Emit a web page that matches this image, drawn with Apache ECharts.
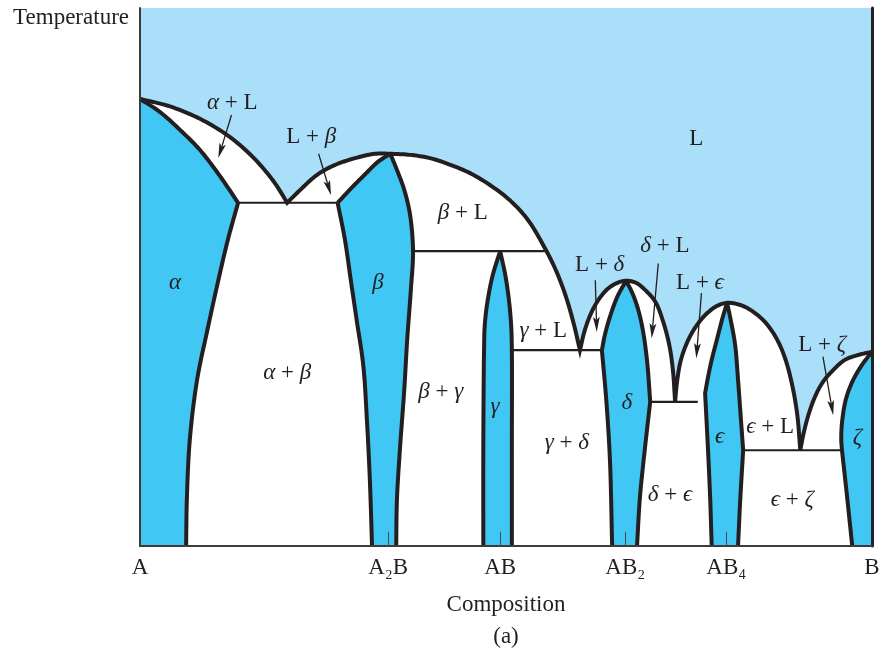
<!DOCTYPE html>
<html>
<head>
<meta charset="utf-8">
<script src="https://cdn.jsdelivr.net/npm/echarts@6/dist/echarts.min.js"></script>
<style>
  html, body { margin: 0; padding: 0; background: #ffffff; }
  #chart { width: 888px; height: 651px; }
</style>
</head>
<body>
<div id="chart"></div>
<script>
// Composition axis: percent B (A = 0, B = 100). Temperature axis: relative units 0–100.

// Compounds along the composition axis
const compoundNames = ['A', 'A₂B', 'AB', 'AB₂', 'AB₄', 'B'];
const compoundPos = [0, 33.9, 49.2, 66.3, 80.1, 100];
const compoundTicks = [33.9, 49.2, 66.3, 80.1];

// Liquidus, piece by piece from A to B
const liquidusAlpha = [[0, 83.1], [4.1, 81.7], [8.2, 79.4], [12.3, 76.0], [15.7, 71.9], [18.4, 67.5], [20.1, 63.8]];
const liquidusBeta = [[20.1, 63.8], [21.9, 66.2], [24.2, 69.0], [26.6, 70.8], [29.4, 72.1], [32.1, 72.9], [34.2, 72.9]];
const liquidusBetaGamma = [[34.2, 72.9], [36.9, 72.7], [39.6, 72.1], [42.3, 70.9], [45.1, 69.3], [47.8, 67.1], [50.5, 64.3],
  [53.0, 60.6], [55.3, 55.4], [56.8, 51.3], [58.1, 46.7], [59.2, 41.6], [60.1, 36.4]];
const liquidusDeltaLeft = [[60.1, 36.4], [60.7, 39.8], [61.5, 42.9], [62.6, 45.7], [63.9, 47.8], [65.2, 48.9], [66.4, 49.3]];
const liquidusDeltaRight = [[66.4, 49.3], [67.8, 48.9], [69.0, 47.6], [70.4, 45.4], [71.4, 42.0], [72.3, 37.4], [72.8, 32.7], [73.1, 26.8]];
const liquidusEpsLeft = [[73.1, 26.8], [73.4, 30.9], [73.9, 34.6], [74.9, 38.3], [76.1, 41.1], [77.5, 43.3], [78.8, 44.6], [80.2, 45.2]];
const liquidusEpsRight = [[80.2, 45.2], [82.0, 44.8], [83.6, 43.7], [85.4, 41.6], [86.9, 38.7], [88.1, 35.0], [89.1, 29.9], [89.8, 24.3], [90.2, 17.8]];
const liquidusZeta = [[90.2, 17.8], [90.6, 20.6], [91.3, 24.3], [92.2, 27.7], [93.3, 30.5], [94.7, 32.7], [96.3, 34.6], [98.1, 35.5], [100, 36.1]];

// Solidus and solvus boundaries of the solid phases
const alphaSolidus = [[0, 83.1], [2.7, 80.7], [5.5, 77.3], [8.2, 73.6], [10.9, 68.8], [13.4, 63.8]];
const alphaSolvus = [[13.4, 63.8], [12.0, 56.9], [10.7, 49.4], [9.2, 40.1], [7.8, 30.9], [6.8, 19.7], [6.4, 8.6], [6.3, 0]];
const betaSolidus = [[27.0, 63.8], [29.0, 66.7], [30.9, 69.3], [32.5, 71.4], [34.2, 72.9]];
const betaSolvusLeft = [[27.0, 63.8], [28.0, 56.9], [28.8, 49.4], [29.6, 42.0], [30.5, 33.6], [31.0, 23.4], [31.4, 12.3], [31.7, 0]];
const betaRight = [[34.2, 72.9], [35.1, 69.9], [36.1, 66.2], [36.9, 61.5], [37.3, 54.8], [37.0, 47.6], [36.5, 38.3],
  [36.1, 29.0], [35.5, 17.8], [35.1, 8.6], [35.0, 0]];
const gammaLeft = [[49.2, 54.8], [48.2, 50.4], [47.5, 45.7], [47.1, 41.1], [47.0, 36.4], [46.9, 18.0], [46.9, 0]];
const gammaRight = [[49.2, 54.8], [49.9, 50.4], [50.4, 45.7], [50.7, 41.1], [50.8, 36.4], [50.8, 18.0], [50.8, 0]];
const deltaLeftUpper = [[66.4, 49.3], [65.2, 46.3], [64.2, 42.6], [63.5, 39.2], [63.1, 36.4]];
const deltaLeftLower = [[63.1, 36.4], [63.7, 27.1], [64.2, 16.0], [64.5, 0]];
const deltaRightUpper = [[66.4, 49.3], [67.2, 47.2], [68.0, 44.2], [68.7, 40.1], [69.3, 34.0], [69.7, 26.8]];
const deltaRightLower = [[69.7, 26.8], [69.0, 18.4], [68.3, 9.1], [67.9, 0]];
const epsLeftUpper = [[80.2, 45.2], [79.5, 42.0], [78.8, 38.3], [78.1, 34.6], [77.6, 31.4], [77.2, 28.4]];
const epsLeftLower = [[77.2, 28.4], [77.6, 17.8], [77.9, 8.6], [78.1, 0]];
const epsRightUpper = [[80.2, 45.2], [80.7, 42.0], [81.3, 37.4], [81.7, 30.9], [82.1, 23.4], [82.4, 17.8]];
const epsRightLower = [[82.4, 17.8], [82.0, 8.6], [81.7, 0]];
const zetaUpper = [[100, 36.1], [98.6, 33.6], [97.3, 30.5], [96.4, 27.1], [95.9, 22.9], [95.8, 19.7], [95.9, 17.8]];
const zetaLower = [[95.9, 17.8], [96.6, 9.1], [97.3, 0]];

// Invariant (eutectic / peritectic) temperatures and their tie-line ends
const tieTemps = [63.8, 54.8, 36.4, 26.8, 17.8];
const tieFrom = [13.4, 37.3, 50.8, 69.7, 82.4];
const tieTo = [27.0, 55.3, 63.1, 76.2, 95.9];

// Region labels
const labelTexts = ['α + L', 'L + β', 'β + L', 'L', 'α', 'β', 'α + β', 'β + γ', 'γ', 'γ + L', 'γ + δ',
  'L + δ', 'δ + L', 'L + ϵ', 'δ', 'ϵ', 'ϵ + L', 'δ + ϵ', 'ϵ + ζ', 'L + ζ', 'ζ'];
const labelX = [12.6, 23.4, 44.1, 76.0, 4.8, 32.5, 20.1, 41.1, 48.5, 55.1, 58.3, 62.8, 71.7, 76.5, 66.5, 79.2, 86.1, 72.4, 89.1, 93.2, 98.0];
const labelY = [82.3, 76.0, 61.9, 75.7, 48.9, 48.9, 32.2, 28.6, 25.8, 40.0, 19.1, 52.2, 55.8, 48.9, 26.6, 20.3, 22.1, 9.5, 8.6, 37.4, 20.1];

// Leader arrows from labels into narrow two-phase fields
const arrowFrom = [[12.5, 80.1], [24.4, 72.9], [62.2, 49.4], [70.8, 52.5], [76.7, 47.0], [93.3, 35.2]];
const arrowTo = [[10.7, 72.1], [26.1, 65.2], [62.4, 39.8], [69.9, 38.6], [76.0, 34.9], [94.7, 24.3]];

// ---- shapes: each is a list of smooth pieces joined at sharp corners ----
const rev = a => a.slice().reverse();
const liquidusPieces = [
  liquidusAlpha,
  liquidusBeta.concat(liquidusBetaGamma.slice(1)),
  liquidusDeltaLeft.concat(liquidusDeltaRight.slice(1)),
  liquidusEpsLeft.concat(liquidusEpsRight.slice(1)),
  liquidusZeta
];
const fieldShapes = [liquidusPieces.concat([[[100, 0], [0, 0]]])];
const phaseShapes = [
  [alphaSolidus, alphaSolvus, [[6.3, 0], [0, 0]]],
  [betaSolidus, betaRight, rev(betaSolvusLeft)],
  [rev(gammaLeft), gammaRight],
  [rev(deltaLeftLower), rev(deltaLeftUpper), deltaRightUpper, deltaRightLower],
  [rev(epsLeftLower), rev(epsLeftUpper), epsRightUpper, epsRightLower],
  [zetaUpper, zetaLower, [[97.3, 0], [100, 0]]]
];
const boundaryShapes = [
  liquidusPieces,
  [alphaSolidus], [alphaSolvus], [betaSolidus], [betaSolvusLeft], [betaRight],
  [gammaLeft], [gammaRight],
  [deltaLeftUpper, deltaLeftLower], [deltaRightUpper, deltaRightLower],
  [epsLeftUpper, epsLeftLower], [epsRightUpper, epsRightLower],
  [zetaUpper, zetaLower]
];
const tieShapes = tieTemps.map((t, i) => [[[tieFrom[i], t], [tieTo[i], t]]]);

const INK = '#231f20';
const SERIF = '"Liberation Serif", "DejaVu Serif", serif';
const LIQUID = '#a9dff9';
const SOLID = '#41c7f4';
const FS = 23;

// centripetal Catmull-Rom through the pixel points of one piece
function smoothPiece(pts) {
  if (pts.length < 3) return pts.slice();
  const d = (a, b) => Math.max(Math.sqrt(Math.hypot(b[0] - a[0], b[1] - a[1])), 1e-4);
  const first = [2 * pts[0][0] - pts[1][0], 2 * pts[0][1] - pts[1][1]];
  const n = pts.length;
  const last = [2 * pts[n - 1][0] - pts[n - 2][0], 2 * pts[n - 1][1] - pts[n - 2][1]];
  const P = [first].concat(pts, [last]);
  const out = [];
  for (let i = 1; i < P.length - 2; i++) {
    const p0 = P[i - 1], p1 = P[i], p2 = P[i + 1], p3 = P[i + 2];
    const t0 = 0, t1 = t0 + d(p0, p1), t2 = t1 + d(p1, p2), t3 = t2 + d(p2, p3);
    const steps = 10;
    for (let k = 0; k < steps; k++) {
      const t = t1 + (t2 - t1) * k / steps;
      const L = (a, b, ta, tb) => [((tb - t) * a[0] + (t - ta) * b[0]) / (tb - ta), ((tb - t) * a[1] + (t - ta) * b[1]) / (tb - ta)];
      const A1 = L(p0, p1, t0, t1), A2 = L(p1, p2, t1, t2), A3 = L(p2, p3, t2, t3);
      const B1 = L(A1, A2, t0, t2), B2 = L(A2, A3, t1, t3);
      out.push(L(B1, B2, t1, t2));
    }
  }
  out.push(pts[n - 1]);
  return out;
}
function shapePixels(api, pieces) {
  let out = [];
  pieces.forEach(piece => { out = out.concat(smoothPiece(piece.map(p => api.coord(p)))); });
  return out;
}

function shapeSeries(shapes, kind, style, z) {
  return {
    type: 'custom',
    coordinateSystem: 'cartesian2d',
    silent: true,
    clip: false,
    z: z,
    data: shapes.map(s => s[0][0]),
    renderItem: (params, api) => ({
      type: kind,
      shape: { points: shapePixels(api, shapes[params.dataIndex]) },
      style: style
    })
  };
}

const greek = 'αβγδϵζ';
function richLabel(s) {
  return s.split('').map(ch => greek.indexOf(ch) >= 0 ? '{g|' + ch + '}' : ch).join('');
}

const chart = echarts.init(document.getElementById('chart'), null, { renderer: 'canvas' });

chart.setOption({
  animation: false,
  backgroundColor: '#ffffff',
  grid: { left: 140, right: 16, top: 8, bottom: 105, show: true, backgroundColor: LIQUID, borderWidth: 0 },
  xAxis: {
    type: 'value', min: 0, max: 100, z: 10,
    axisLine: { show: true, lineStyle: { color: '#3b3b3b', width: 2 } },
    axisTick: { show: true, customValues: compoundTicks, inside: true, length: 14, lineStyle: { color: '#4a4a4a', width: 1 } },
    axisLabel: {
      customValues: compoundPos, showMinLabel: true, showMaxLabel: true, margin: 10,
      formatter: v => {
        let best = 0;
        compoundPos.forEach((p, i) => { if (Math.abs(p - v) < Math.abs(compoundPos[best] - v)) best = i; });
        return compoundNames[best];
      },
      fontFamily: SERIF, fontSize: FS, color: INK
    },
    splitLine: { show: false },
    name: 'Composition', nameLocation: 'middle', nameGap: 47,
    nameTextStyle: { fontFamily: SERIF, fontSize: FS, color: INK }
  },
  yAxis: [{
    type: 'value', min: 0, max: 100, z: 10,
    axisLine: { show: true, lineStyle: { color: '#3b3b3b', width: 2 } },
    axisTick: { show: false }, axisLabel: { show: false }, splitLine: { show: false },
    name: 'Temperature', nameLocation: 'end', nameGap: -10,
    nameTextStyle: { fontFamily: SERIF, fontSize: FS, color: INK, align: 'right', verticalAlign: 'middle', padding: [0, 11, 0, 0] }
  }, {
    type: 'value', min: 0, max: 100, position: 'right', z: 10,
    axisLine: { show: true, onZero: false, lineStyle: { color: INK, width: 3 } },
    axisTick: { show: false }, axisLabel: { show: false }, splitLine: { show: false }
  }],
  graphic: [{
    type: 'text', x: 506, y: 637,
    style: { text: '(a)', align: 'center', verticalAlign: 'middle', fontFamily: SERIF, fontSize: FS, fill: INK }
  }],
  series: [
    // two-phase fields (everything under the liquidus)
    shapeSeries(fieldShapes, 'polygon', { fill: '#ffffff' }, 2),
    // single solid phases
    shapeSeries(phaseShapes, 'polygon', { fill: SOLID }, 3),
    // tie lines at invariant temperatures
    shapeSeries(tieShapes, 'polyline', { stroke: INK, lineWidth: 2.2, fill: null }, 4),
    // phase boundaries
    shapeSeries(boundaryShapes, 'polyline', { stroke: INK, lineWidth: 4, fill: null, lineJoin: 'miter', miterLimit: 6 }, 5),
    // leader arrows
    {
      type: 'custom', coordinateSystem: 'cartesian2d', silent: true, clip: false, z: 6,
      data: arrowFrom,
      renderItem: (params, api) => {
        const a = api.coord(arrowFrom[params.dataIndex]);
        const b = api.coord(arrowTo[params.dataIndex]);
        const dx = b[0] - a[0], dy = b[1] - a[1];
        const len = Math.hypot(dx, dy), ux = dx / len, uy = dy / len;
        const hl = 15, hw = 3.4;
        const base = [b[0] - ux * hl, b[1] - uy * hl];
        const notch = [base[0] + ux * 3, base[1] + uy * 3];
        return {
          type: 'group',
          children: [
            { type: 'line', shape: { x1: a[0], y1: a[1], x2: notch[0], y2: notch[1] }, style: { stroke: INK, lineWidth: 1.3 } },
            { type: 'polygon', shape: { points: [b, [base[0] - uy * hw, base[1] + ux * hw], notch, [base[0] + uy * hw, base[1] - ux * hw]] }, style: { fill: INK } }
          ]
        };
      }
    },
    // region labels
    {
      type: 'custom', coordinateSystem: 'cartesian2d', silent: true, clip: false, z: 7,
      data: labelX.map((x, i) => [x, labelY[i]]),
      renderItem: (params, api) => {
        const p = api.coord([labelX[params.dataIndex], labelY[params.dataIndex]]);
        return {
          type: 'text', x: p[0], y: p[1],
          style: {
            text: richLabel(labelTexts[params.dataIndex]),
            align: 'center', verticalAlign: 'middle',
            fontFamily: SERIF, fontSize: FS, fill: INK,
            rich: { g: { fontFamily: SERIF, fontSize: FS, fontStyle: 'italic', color: INK } }
          }
        };
      }
    }
  ]
});
</script>
</body>
</html>
